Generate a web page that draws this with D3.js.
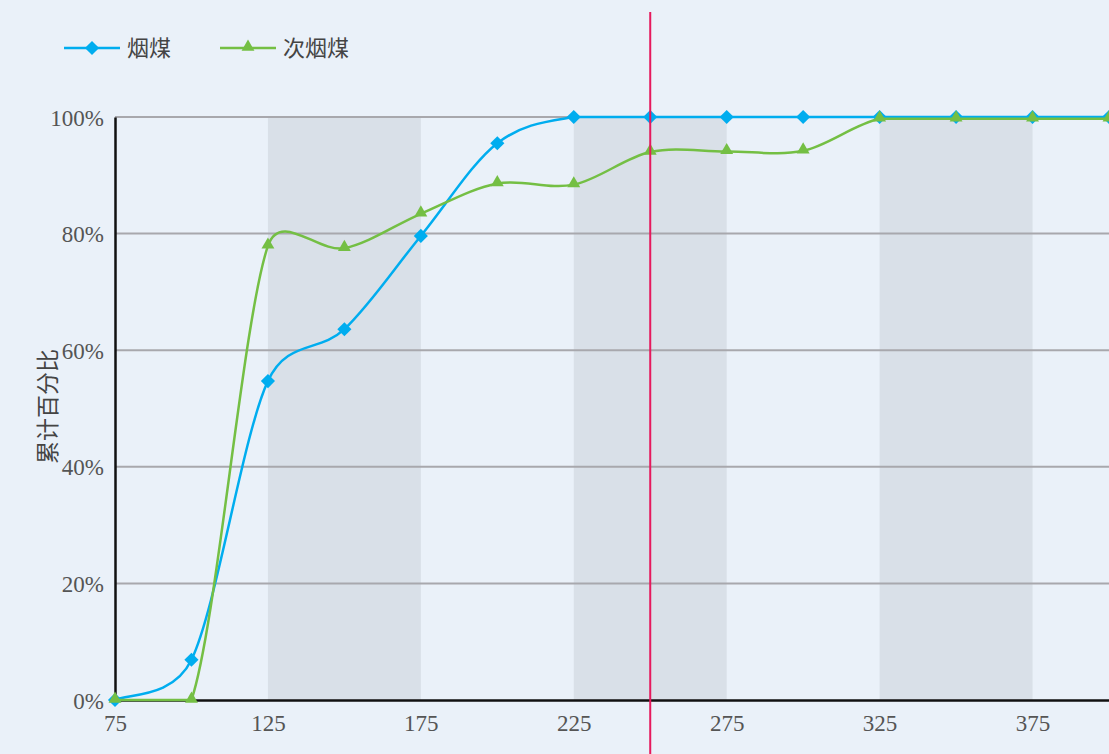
<!DOCTYPE html>
<meta charset="utf-8">
<style>
body { margin: 0; background: #eaf1f9; }
svg { display: block; }
.tick text { font-family: "Liberation Serif", serif; font-size: 23px; fill: #555; }
</style>
<svg width="1109" height="754"></svg>
<script src="https://cdn.jsdelivr.net/npm/d3@7"></script>
<script>

var sizes = [75, 100, 125, 150, 175, 200, 225, 250, 275, 300, 325, 350, 375, 400];
var bituminous = [0, 6.9, 54.7, 63.6, 79.6, 95.5, 100, 100, 100, 100, 100, 100, 100, 100];
var subBituminous = [0, 0, 77.9, 77.5, 83.4, 88.6, 88.4, 94.0, 94.1, 94.2, 99.7, 99.7, 99.7, 99.7];
var xTicks = [75, 125, 175, 225, 275, 325, 375];
var yTicks = [0, 20, 40, 60, 80, 100];
var bands = [[125, 175], [225, 275], [325, 375]];
var marker = 250;

var svg = d3.select("svg"),
    margin = {top: 117, right: 0, bottom: 54, left: 115},
    width = +svg.attr("width") - margin.left - margin.right,
    height = +svg.attr("height") - margin.top - margin.bottom,
    g = svg.append("g").attr("transform", "translate(" + margin.left + "," + margin.top + ")");

var x = d3.scaleLinear().domain([75, 400]).range([0, 994]),
    y = d3.scaleLinear().domain([0, 100]).range([height, 0]);

// shaded bands
g.selectAll(".band")
  .data(bands)
  .enter().append("rect")
    .attr("x", function(d) { return x(d[0]); })
    .attr("width", function(d) { return x(d[1]) - x(d[0]); })
    .attr("y", 0)
    .attr("height", height)
    .attr("fill", "#d9e0e8");

// gridlines
g.selectAll(".grid")
  .data(yTicks.slice(1))
  .enter().append("line")
    .attr("x1", 0).attr("x2", width)
    .attr("y1", function(d) { return y(d); })
    .attr("y2", function(d) { return y(d); })
    .attr("stroke", "#a8a8ad")
    .attr("stroke-width", 2);

// axes
g.append("g")
    .attr("transform", "translate(0," + height + ")")
    .call(d3.axisBottom(x).tickValues(xTicks).tickSize(0).tickPadding(15))
    .call(function(a) { a.select(".domain").attr("stroke", "#111").attr("stroke-width", 2.5); });

g.append("g")
    .call(d3.axisLeft(y).tickValues(yTicks).tickSize(0).tickPadding(11).tickFormat(function(d) { return d + "%"; }))
    .call(function(a) { a.select(".domain").attr("stroke", "#111").attr("stroke-width", 2.5); })
    .selectAll(".tick text").attr("dy", "0.35em");

svg.append("text")
    .attr("transform", "translate(56," + (margin.top + height / 2 - 2) + ") rotate(-90)")
    .attr("text-anchor", "middle")
    .style("font-family", "Noto Sans CJK SC, sans-serif")
    .style("font-size", "23px")
    .attr("fill", "#444")
    .text("累计百分比");

// spreadsheet-style smoothing: catmull-rom arms, capped, flat runs straight
function smooth(pts) {
  var n = pts.length, p = d3.path();
  function arm(i, side) {
    var a = pts[Math.max(i - 1, 0)], b = pts[Math.min(i + 1, n - 1)],
        dx = (b[0] - a[0]) / 6, dy = (b[1] - a[1]) / 6,
        o = pts[i + side],
        seg = Math.hypot(o[0] - pts[i][0], o[1] - pts[i][1]),
        len = Math.hypot(dx, dy), k = Math.min(1, 0.5 * seg / len);
    return [dx * k * side, dy * k * side];
  }
  p.moveTo(pts[0][0], pts[0][1]);
  for (var i = 0; i < n - 1; i++) {
    var p0 = pts[i], p1 = pts[i + 1];
    if (Math.abs(p0[1] - p1[1]) < 0.01) { p.lineTo(p1[0], p1[1]); continue; }
    var a1 = arm(i, 1), a2 = arm(i + 1, -1);
    p.bezierCurveTo(p0[0] + a1[0], p0[1] + a1[1], p1[0] + a2[0], p1[1] + a2[1], p1[0], p1[1]);
  }
  return p.toString();
}

var s1 = sizes.map(function(s, i) { return [s, bituminous[i]]; }),
    s2 = sizes.map(function(s, i) { return [s, subBituminous[i]]; });

function px(s) { return s.map(function(d) { return [x(d[0]), y(d[1])]; }); }

var diamond = d3.symbol().type(d3.symbolSquare).size(100),
    triangle = d3.symbol().type(d3.symbolTriangle).size(72);

g.append("path").attr("d", smooth(px(s1))).attr("fill", "none").attr("stroke", "#00adef").attr("stroke-width", 2.5);
g.selectAll(".m1").data(s1).enter().append("path")
    .attr("d", diamond)
    .attr("transform", function(d) { return "translate(" + x(d[0]) + "," + y(d[1]) + ") rotate(45)"; })
    .attr("fill", "#00adef");

g.append("path").attr("d", smooth(px(s2))).attr("fill", "none").attr("stroke", "#74bf44").attr("stroke-width", 2.5);
g.selectAll(".m2").data(s2).enter().append("path")
    .attr("d", triangle)
    .attr("transform", function(d) { return "translate(" + x(d[0]) + "," + (y(d[1]) - 1) + ")"; })
    .attr("fill", "#74bf44");

// red marker line
svg.append("line")
    .attr("x1", margin.left + x(marker)).attr("x2", margin.left + x(marker))
    .attr("y1", 12).attr("y2", 754)
    .attr("stroke", "#e6195d")
    .attr("stroke-width", 2);

// legend
var legend = [
  {name: "烟煤", color: "#00adef", sym: diamond, rot: 45, x: 64},
  {name: "次烟煤", color: "#74bf44", sym: triangle, rot: 0, x: 220}
];
var lg = svg.selectAll(".legend").data(legend).enter().append("g")
    .attr("transform", function(d) { return "translate(" + d.x + ",48)"; });
lg.append("line").attr("x1", 0).attr("x2", 56).attr("stroke", function(d) { return d.color; }).attr("stroke-width", 2.5);
lg.append("path")
    .attr("d", function(d) { return d.sym(); })
    .attr("transform", function(d) { return "translate(28," + (d.rot ? 0 : -1) + ") rotate(" + d.rot + ")"; })
    .attr("fill", function(d) { return d.color; });
lg.append("text")
    .attr("x", 63).attr("dy", "0.35em")
    .style("font-family", "Noto Sans CJK SC, sans-serif")
    .style("font-size", "22px")
    .attr("fill", "#444")
    .text(function(d) { return d.name; });
</script>
